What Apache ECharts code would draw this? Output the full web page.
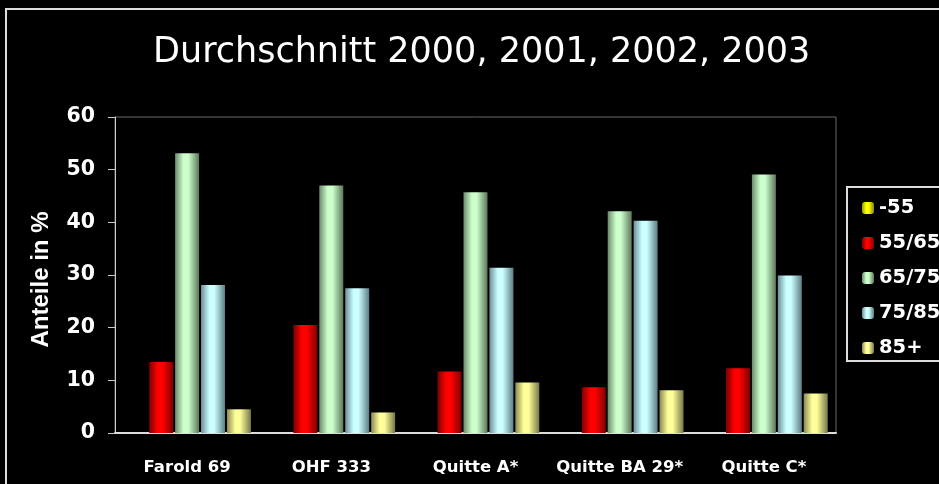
<!DOCTYPE html>
<html>
<head>
<meta charset="utf-8">
<script src="https://cdn.jsdelivr.net/npm/echarts@6/dist/echarts.min.js"></script>
<style>
  html, body { margin: 0; padding: 0; background: #000; }
  #chart { width: 939px; height: 484px; }
</style>
</head>
<body>
<div id="chart"></div>
<script>
const categories = ['Farold 69', 'OHF 333', 'Quitte A*', 'Quitte BA 29*', 'Quitte C*']
const seriesNames = ['-55', '55/65', '65/75', '75/85', '85+']
const under55 = [0, 0, 0, 0, 0]
const s55to65 = [13.5, 20.5, 11.7, 8.7, 12.3]
const s65to75 = [53.1, 47.0, 45.7, 42.1, 49.1]
const s75to85 = [28.1, 27.5, 31.4, 40.3, 29.9]
const over85 = [4.5, 3.9, 9.6, 8.1, 7.5]
const yTicks = [0, 10, 20, 30, 40, 50, 60]

const chart = echarts.init(document.getElementById('chart'))

// Schattierung wie bei den 3D-Saeulen
function shade(edgeL, mid, edgeR) {
  return new echarts.graphic.LinearGradient(0, 0, 1, 0, [
    { offset: 0, color: edgeL },
    { offset: 0.35, color: mid },
    { offset: 0.55, color: mid },
    { offset: 1, color: edgeR }
  ])
}

const colors = [
  shade('#9a9a00', '#ffff00', '#8a8a00'),
  shade('#7a0000', '#ff0000', '#800000'),
  shade('#6b8a6b', '#ccffcc', '#5c775c'),
  shade('#6b8f99', '#ccffff', '#5c7d86'),
  shade('#8a8a55', '#ffff99', '#77774a')
]

const values = [under55, s55to65, s65to75, s75to85, over85]

const option = {
  backgroundColor: '#000',
  animation: false,
  title: {
    text: 'Durchschnitt 2000, 2001, 2002, 2003',
    left: 148,
    top: 30,
    textStyle: { color: '#fff', fontFamily: 'DejaVu Sans', fontWeight: 'normal', fontSize: 35 }
  },
  legend: {
    orient: 'vertical',
    left: 857,
    top: 193,
    itemWidth: 12,
    itemHeight: 12,
    itemGap: 15,
    data: seriesNames,
    textStyle: { color: '#fff', fontFamily: 'DejaVu Sans', fontWeight: 'bold', fontSize: 19.5, lineHeight: 20 }
  },
  grid: {
    left: 115,
    right: 103,
    top: 117,
    bottom: 51,
    show: true,
    borderColor: '#666',
    borderWidth: 1
  },
  xAxis: {
    type: 'category',
    data: categories,
    axisLine: { lineStyle: { color: '#ddd', width: 2 } },
    axisTick: { length: 8, lineStyle: { color: '#ddd' } },
    axisLabel: { interval: 0, color: '#fff', fontFamily: 'DejaVu Sans', fontWeight: 'bold', fontSize: 16.5, margin: 26 }
  },
  yAxis: {
    type: 'value',
    min: yTicks[0],
    max: yTicks[yTicks.length - 1],
    interval: 10,
    name: 'Anteile in %',
    nameLocation: 'middle',
    nameGap: 62,
    nameTextStyle: { color: '#fff', fontFamily: 'Liberation Sans', fontWeight: 'bold', fontSize: 24, padding: [0, 9, 0, 0] },
    axisLine: { show: true, lineStyle: { color: '#ccc', width: 1 } },
    axisTick: { show: true, length: 7, lineStyle: { color: '#ccc' } },
    splitLine: { show: false },
    axisLabel: { color: '#fff', fontFamily: 'DejaVu Sans', fontWeight: 'bold', fontSize: 20.5, margin: 20 }
  },
  graphic: [
    {
      type: 'rect',
      shape: { x: 6, y: 9, width: 1000, height: 1000 },
      style: { fill: 'none', stroke: '#ddd', lineWidth: 2 }
    },
    {
      type: 'rect',
      shape: { x: 847, y: 187, width: 200, height: 174 },
      style: { fill: 'none', stroke: '#ddd', lineWidth: 2 }
    }
  ],
  series: seriesNames.map((name, i) => ({
    name: name,
    type: 'bar',
    data: values[i],
    barWidth: 24,
    barGap: '8%',
    itemStyle: { color: colors[i] }
  }))
}

chart.setOption(option)
</script>
</body>
</html>
